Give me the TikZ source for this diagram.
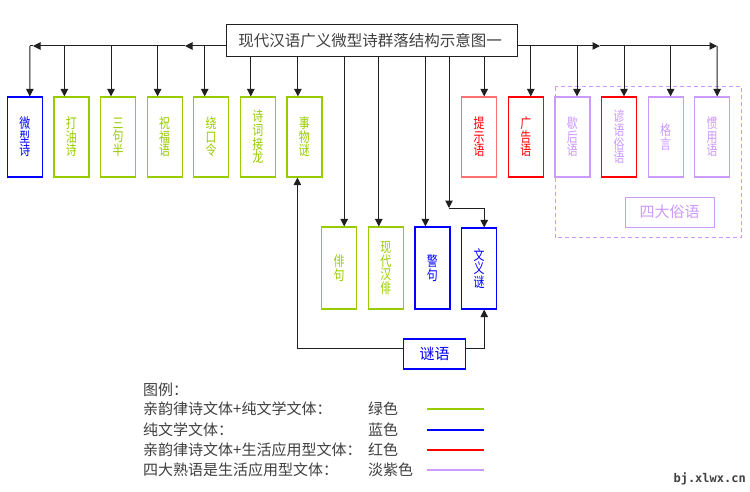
\documentclass[tikz,border=0pt]{standalone}
\usepackage{fontspec}
\setmainfont{Noto Sans CJK SC}
\newfontfamily\cjk{Noto Sans CJK SC}
\newfontfamily\cjknarrow[FakeStretch=0.78]{Noto Sans CJK SC}
\newfontfamily\wmfont{DejaVu Sans Mono}
\usetikzlibrary{arrows.meta}
\definecolor{cgreen}{HTML}{99CC00}
\definecolor{cblue}{HTML}{0000FF}
\definecolor{cred}{HTML}{FF0000}
\definecolor{clred}{HTML}{FF7070}
\definecolor{cpurple}{HTML}{CC99FF}
\definecolor{ctext}{HTML}{404040}
\definecolor{cline}{HTML}{202020}
\tikzset{
  vbox/.style={draw, fill=white, minimum width=35pt, minimum height=80pt, inner sep=0pt, align=center, line width=1.2pt, font=\cjknarrow\fontsize{14}{13.6}\selectfont},
  bvbox/.style={vbox, minimum height=82pt},
  gbox/.style={draw=cgreen, text=cgreen},
  bbox/.style={draw=cblue, text=cblue},
  rbox/.style={draw=cred, text=cred},
  pbox/.style={draw=cpurple, text=cpurple},
  hbox/.style={draw, fill=white, inner sep=0pt, line width=1.2pt, font=\cjk\fontsize{15}{16}\selectfont},
  arr/.style={-{Triangle[length=7.5pt,width=7.5pt]}, line width=1pt, draw=cline},
  ln/.style={line width=1pt, draw=cline},
  lgtext/.style={anchor=west, inner sep=0pt, text=ctext, font=\cjk\fontsize{15}{16}\selectfont},
  lgline/.style={line width=2pt}
}
\begin{document}
\begin{tikzpicture}[x=1pt,y=-1pt]
\useasboundingbox (0,0) rectangle (750,492);
\fill[white] (0,0) rectangle (750,492);

% dashed group for the four folk sayings
\draw[cpurple, dashed, dash pattern=on 4pt off 3pt, line width=1pt] (555,87) rectangle (741.7,237.7);

% title
\node[draw=cline, line width=1pt, minimum width=291pt, minimum height=32pt, inner sep=0pt, text=ctext,
      font=\cjk\fontsize{15.5}{16}\selectfont] (title) at (372,41) {现代汉语广义微型诗群落结构示意图一\hspace*{4pt}};

% top-left boxes
\node[vbox, bbox] (b1) at (24.8,137) {微\\型\\诗};
\node[vbox, gbox] (b2) at (71.4,137) {打\\油\\诗};
\node[vbox, gbox] (b3) at (118,137) {三\\句\\半};
\node[vbox, gbox] (b4) at (164.6,137) {祝\\福\\语};
\node[vbox, gbox] (b5) at (211.2,137) {绕\\口\\令};
\node[vbox, gbox] (b6) at (257.8,137) {诗\\词\\接\\龙};
\node[vbox, gbox] (b7) at (304.4,137) {事\\物\\谜};

% top-right boxes
\node[vbox, draw=clred, text=cred] (r1) at (479.2,137) {提\\示\\语};
\node[vbox, rbox] (r2) at (525.8,137) {广\\告\\语};
\node[vbox, pbox] (r3) at (572.4,137) {歇\\后\\语};
\node[vbox, draw=cred, text=cpurple] (r4) at (619,137) {谚\\语\\俗\\语};
\node[vbox, pbox] (r5) at (665.6,137) {格\\言};
\node[vbox, pbox] (r6) at (712.2,137) {惯\\用\\语};

% bottom boxes
\node[bvbox, gbox] (w1) at (339.2,268) {俳\\句};
\node[bvbox, gbox] (w2) at (385.8,268) {现\\代\\汉\\俳};
\node[bvbox, bbox] (w3) at (432.4,268) {警\\句};
\node[vbox, minimum height=81pt, bbox] (w4) at (479.2,268.5) {文\\义\\谜};

% riddle and folk-saying boxes
\node[hbox, bbox, minimum width=62.4pt, minimum height=30pt] (riddle) at (434.5,354) {谜语};
\node[hbox, pbox, minimum width=89pt, minimum height=30pt, line width=1pt] (folk) at (669.5,212) {四大俗语};

% coordinates
\coordinate (hl) at (30,46);
\coordinate (hlt) at (33,46);
\coordinate (mL) at (185,46);
\coordinate (hr) at (717,46);
\coordinate (mR) at (600,46);
\coordinate (t1) at ([xshift=5pt]b1.north);
\coordinate (t2) at ([xshift=-7pt]b2.north);
\coordinate (t3) at ([xshift=-7pt]b3.north);
\coordinate (t4) at ([xshift=-7pt]b4.north);
\coordinate (t5) at ([xshift=-6.5pt]b5.north);
\coordinate (t6) at ([xshift=-7pt]b6.north);
\coordinate (t7) at ([xshift=-6.5pt]b7.north);
\coordinate (u1) at ([xshift=5pt]r1.north);
\coordinate (u2) at ([xshift=5pt]r2.north);
\coordinate (u3) at ([xshift=4.6pt]r3.north);
\coordinate (u4) at ([xshift=5pt]r4.north);
\coordinate (u5) at ([xshift=5pt]r5.north);
\coordinate (u6) at ([xshift=5pt]r6.north);
\coordinate (v1) at ([xshift=5pt]w1.north);
\coordinate (v2) at ([xshift=-7pt]w2.north);
\coordinate (v3) at ([xshift=-7pt]w3.north);
\coordinate (v4) at ([xshift=5pt]w4.north);
\coordinate (split) at (449,208);
\coordinate (riddleW) at ([yshift=6pt]riddle.west);
\coordinate (riddleE) at ([yshift=6pt]riddle.east);
\coordinate (s7) at ([xshift=-7pt]b7.south);
\coordinate (s4) at ([xshift=5pt]w4.south);

% left trunk
\draw[arr] (title.west |- hl) -- (mL);
\draw[arr] (mL) -- (hlt);
\draw[ln] (hlt) -- (hl);
\draw[arr] (hl) -- (t1);
\foreach \t in {t2,t3,t4,t5} \draw[arr] (\t |- hl) -- (\t);
\foreach \t in {t6,t7} \draw[arr] (\t |- title.south) -- (\t);

% right trunk
\draw[arr] (title.east |- hr) -- (mR);
\draw[arr] (mR) -- (hr);
\draw[arr] (hr) -- (u6);
\foreach \t in {u2,u3,u4,u5} \draw[arr] (\t |- hr) -- (\t);
\draw[arr] (u1 |- title.south) -- (u1);

% lower branches
\foreach \t in {v1,v2,v3} \draw[arr] (\t |- title.south) -- (\t);
\draw[arr] (split |- title.south) -- (split);
\draw[arr] (split) -| (v4);

% riddle connectors
\draw[arr] (riddleW) -| (s7);
\draw[arr] (riddleE) -| (s4);

% legend
\node[lgtext] (lg0) at (143,390) {图例：};
\node[lgtext] (lg1) at (143,409) {亲韵律诗文体+纯文学文体：};
\node[lgtext] (lg2) at (143,430) {纯文学文体：};
\node[lgtext] (lg3) at (143,450) {亲韵律诗文体+生活应用型文体：};
\node[lgtext] (lg4) at (143,470) {四大熟语是生活应用型文体：};
\node[lgtext] (c1) at (368,409) {绿色};
\node[lgtext] (c2) at (368,430) {蓝色};
\node[lgtext] (c3) at (368,450) {红色};
\node[lgtext] (c4) at (368,470) {淡紫色};
\draw[lgline, cgreen] (427,409) -- (484,409);
\draw[lgline, cblue] (427,430) -- (484,430);
\draw[lgline, cred] (427,450) -- (484,450);
\draw[lgline, cpurple] (427,470) -- (484,470);

% watermark
\node[anchor=east, inner sep=0pt, text=black!75, font=\wmfont\bfseries\fontsize{12}{12}\selectfont] (wm) at (746,479) {bj.xlwx.cn};
\end{tikzpicture}
\end{document}
